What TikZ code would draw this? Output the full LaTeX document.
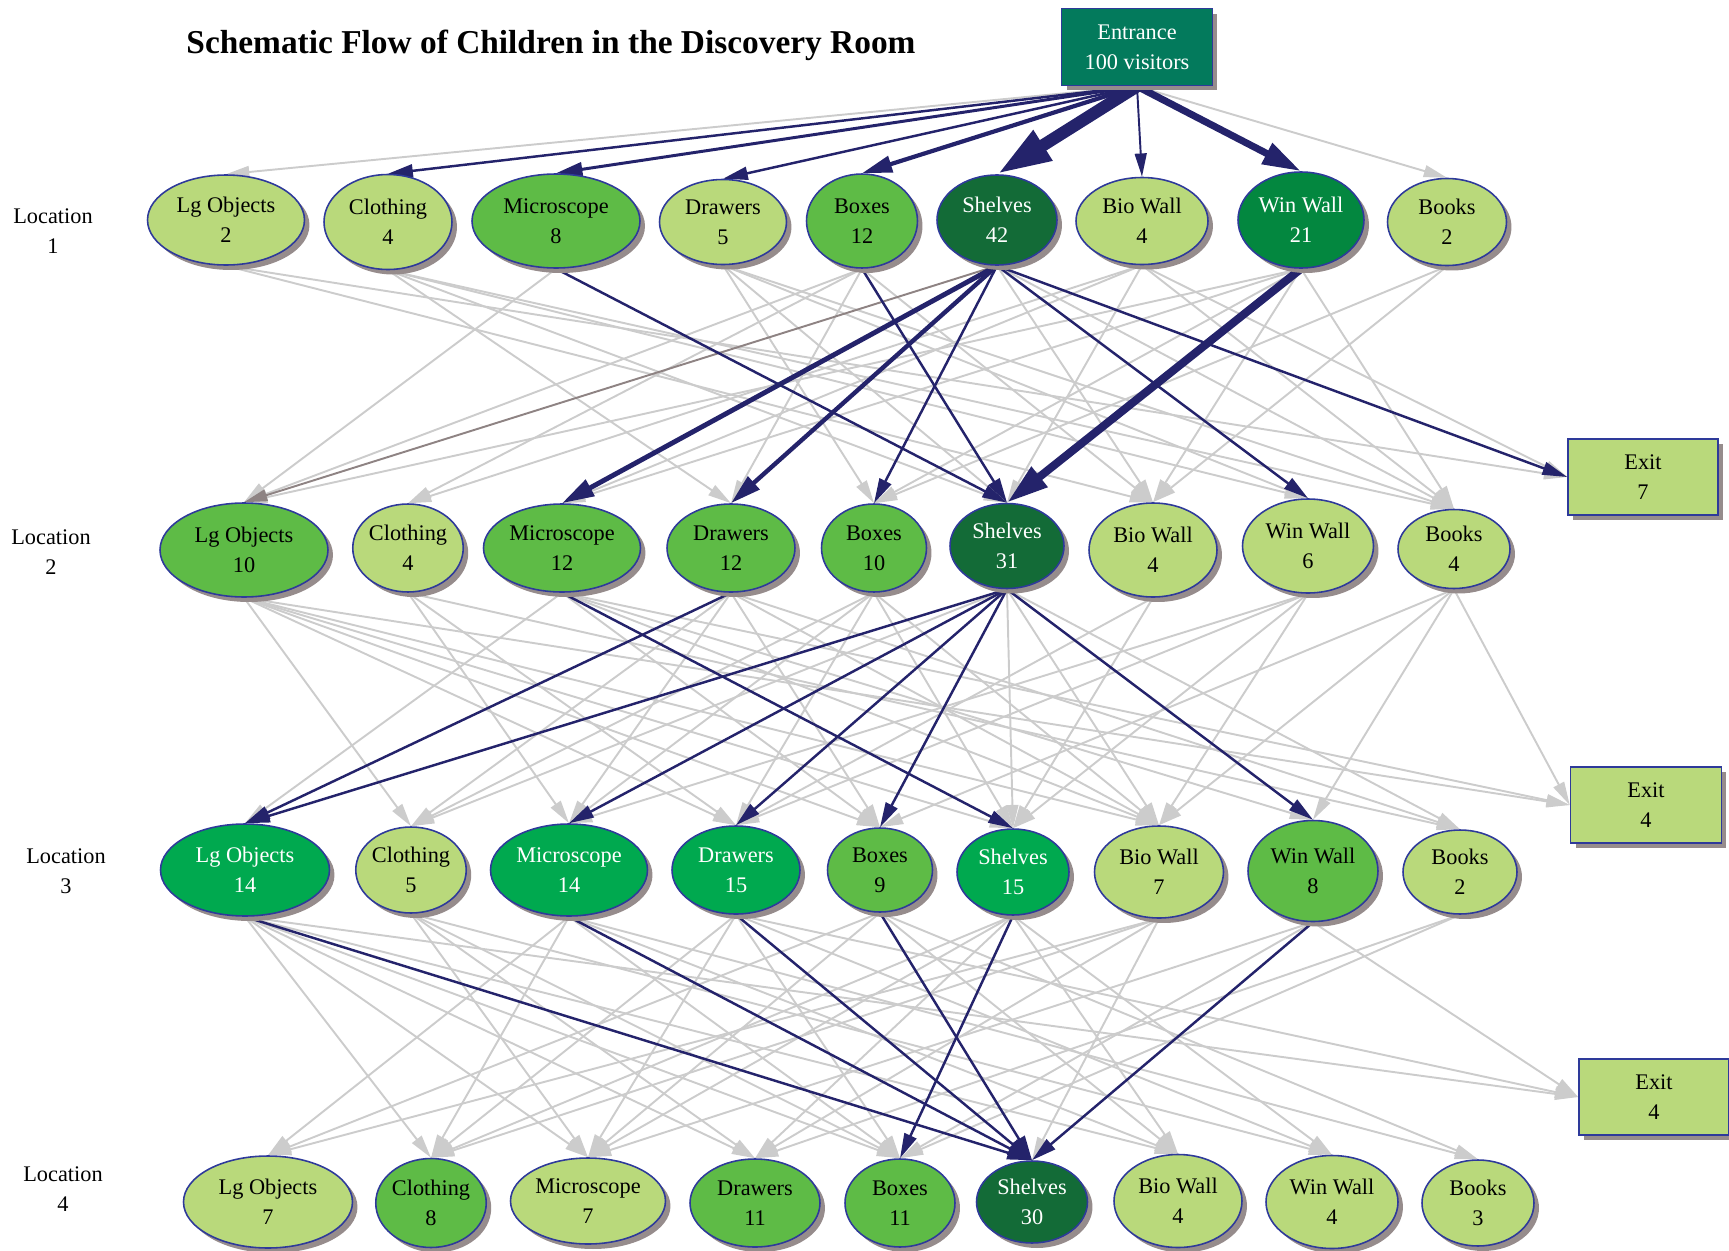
\documentclass[tikz,border=0pt]{standalone}
\usepackage{fontspec}
\setmainfont{Liberation Serif}
\usetikzlibrary{shapes.geometric,arrows.meta,shadows,backgrounds}

\definecolor{lightg}{HTML}{B9D97B}
\definecolor{medg}{HTML}{5EBB46}
\definecolor{brightg}{HTML}{00A94F}
\definecolor{darkg}{HTML}{136B37}
\definecolor{wing}{HTML}{03873F}
\definecolor{entg}{HTML}{037A5C}
\definecolor{rim}{HTML}{2E3A9A}
\definecolor{shade}{HTML}{968C8C}
\definecolor{navy}{HTML}{24236B}
\definecolor{edgegray}{HTML}{CCCCCC}
\definecolor{brownish}{HTML}{8E8383}

\newcommand{\bubfont}{\fontsize{12.7}{17}\selectfont}
\newcommand{\ttlfont}{\fontsize{19}{23}\selectfont\bfseries}

\tikzset{
  sz/.style 2 args={minimum width=#1cm, minimum height=#2cm},
  spot/.style={ellipse, draw=rim, line width=0.9pt, inner sep=0pt, align=center, font=\bubfont,
    drop shadow={shadow xshift=0.1cm, shadow yshift=-0.1cm, fill=shade, opacity=1}},
  pale/.style={spot, fill=lightg, text=black},
  mid/.style={spot, fill=medg, text=black},
  deep/.style={spot, fill=#1, text=white},
  gate/.style={rectangle, draw=rim, line width=0.9pt, fill=entg, text=white, align=center, font=\bubfont,
    drop shadow={shadow xshift=0.1cm, shadow yshift=-0.1cm, fill=shade, opacity=1}},
  exitbox/.style={rectangle, draw=rim, line width=0.9pt, fill=lightg, align=center, font=\bubfont,
    drop shadow={shadow xshift=0.1cm, shadow yshift=-0.1cm, fill=shade, opacity=1}},
  loc/.style={align=center, font=\bubfont},
  faint/.style={draw=edgegray, line width=1.1pt, -{Triangle[length=3.5mm 3, width=1.6mm 2]}},
  flow/.style={draw=navy, line width=1.4pt, -{Triangle[length=3.5mm 3, width=1.6mm 2]}},
}

\begin{document}
\begin{tikzpicture}[x=0.02cm, y=-0.02cm]
\useasboundingbox (0,0) rectangle (1729,1251);

\node[font=\ttlfont] (title) at (551,45) {Schematic Flow of Children in the Discovery Room};
\node[gate, sz={3.02}{1.54}] (en) at (1137,47) {Entrance\\100 visitors};

% locations
\node[loc] (l1) at (53,231) {Location\\1};
\node[loc] (l2) at (51,552) {Location\\2};
\node[loc] (l3) at (66,871) {Location\\3};
\node[loc] (l4) at (63,1189) {Location\\4};

% location 1
\node[pale, sz={3.14}{1.80}] (a1) at (226,220) {Lg Objects\\2};
\node[pale, sz={2.56}{1.90}] (a2) at (388,222) {Clothing\\4};
\node[mid, sz={3.36}{1.88}] (a3) at (556,221) {Microscope\\8};
\node[pale, sz={2.54}{1.70}] (a4) at (723,222) {Drawers\\5};
\node[mid, sz={2.22}{1.88}] (a5) at (862,221) {Boxes\\12};
\node[deep=darkg, sz={2.40}{1.80}] (a6) at (997,220) {Shelves\\42};
\node[pale, sz={2.64}{1.74}] (a7) at (1142,221) {Bio Wall\\4};
\node[deep=wing, sz={2.52}{1.92}] (a8) at (1301,220) {Win Wall\\21};
\node[pale, sz={2.38}{1.74}] (a9) at (1447,222) {Books\\2};

% location 2
\node[mid, sz={3.36}{1.88}] (b1) at (244,550) {Lg Objects\\10};
\node[pale, sz={2.12}{1.76}] (b2) at (408,548) {Clothing\\4};
\node[mid, sz={3.14}{1.76}] (b3) at (562,548) {Microscope\\12};
\node[mid, sz={2.56}{1.76}] (b4) at (731,548) {Drawers\\12};
\node[mid, sz={2.10}{1.76}] (b5) at (874,548) {Boxes\\10};
\node[deep=darkg, sz={2.28}{1.70}] (b6) at (1007,546) {Shelves\\31};
\node[pale, sz={2.56}{1.88}] (b7) at (1153,550) {Bio Wall\\4};
\node[pale, sz={2.62}{1.88}] (b8) at (1308,546) {Win Wall\\6};
\node[pale, sz={2.24}{1.58}] (b9) at (1454,549) {Books\\4};
\node[exitbox, sz={3.00}{1.52}] (e1) at (1643,477) {Exit\\7};

% location 3
\node[deep=brightg, sz={3.38}{1.84}] (c1) at (245,870) {Lg Objects\\14};
\node[pale, sz={2.06}{1.72}] (c2) at (411,870) {Clothing\\5};
\node[deep=brightg, sz={3.14}{1.84}] (c3) at (569,870) {Microscope\\14};
\node[deep=brightg, sz={2.56}{1.76}] (c4) at (736,870) {Drawers\\15};
\node[mid, sz={2.10}{1.68}] (c5) at (880,870) {Boxes\\9};
\node[deep=brightg, sz={2.24}{1.72}] (c6) at (1013,872) {Shelves\\15};
\node[pale, sz={2.58}{1.84}] (c7) at (1159,872) {Bio Wall\\7};
\node[mid, sz={2.60}{2.02}] (c8) at (1313,871) {Win Wall\\8};
\node[pale, sz={2.28}{1.68}] (c9) at (1460,872) {Books\\2};
\node[exitbox, sz={3.02}{1.52}] (e2) at (1646,805) {Exit\\4};

% location 4
\node[pale, sz={3.38}{1.84}] (d1) at (268,1202) {Lg Objects\\7};
\node[mid, sz={2.16}{1.78}] (d2) at (431,1203) {Clothing\\8};
\node[pale, sz={3.10}{1.72}] (d3) at (588,1201) {Microscope\\7};
\node[mid, sz={2.60}{1.76}] (d4) at (755,1203) {Drawers\\11};
\node[mid, sz={2.20}{1.76}] (d5) at (900,1203) {Boxes\\11};
\node[deep=darkg, sz={2.22}{1.64}] (d6) at (1032,1202) {Shelves\\30};
\node[pale, sz={2.56}{1.86}] (d7) at (1178,1201) {Bio Wall\\4};
\node[pale, sz={2.64}{1.86}] (d8) at (1332,1202) {Win Wall\\4};
\node[pale, sz={2.24}{1.72}] (d9) at (1478,1203) {Books\\3};
\node[exitbox, sz={3.00}{1.52}] (e3) at (1654,1097) {Exit\\4};

\begin{scope}[on background layer]
% small flows
\foreach \s/\t in {en/a1, en/a9,
  a1/b7, a2/b4, a2/b6, a2/b8, a2/b9, a3/b1, a4/b5, a4/b6, a4/b8, a4/b9,
  a5/b1, a5/b2, a5/b4, a5/b7, a6/b7, a6/b9, a7/b2, a7/b3, a7/b6, a7/b9,
  a8/b1, a8/b3, a8/b5, a8/b7, a8/b9, a9/b5, a9/b7,
  b1/c2, b1/c4, b1/c5, b1/c6, b1/c7, b2/c3, b2/c4, b2/c9,
  b3/c1, b3/c5, b3/c7, b3/c8, b4/c2, b4/c3, b4/c5, b4/c7, b4/c9,
  b5/c2, b5/c3, b5/c4, b5/c6, b5/c7, b6/c2, b6/c6, b6/c7, b6/c9,
  b7/c4, b7/c6, b8/c3, b8/c4, b8/c6, b8/c7, b9/c5, b9/c7, b9/c8,
  c1/d2, c1/d3, c1/d4, c1/d5, c1/d7, c2/d3, c2/d4, c2/d5, c2/d8,
  c3/d1, c3/d2, c3/d5, c3/d7, c3/d9, c4/d2, c4/d3, c4/d5, c4/d8,
  c5/d1, c5/d3, c5/d7, c5/d9, c6/d2, c6/d3, c6/d4, c6/d7, c6/d8,
  c7/d1, c7/d2, c7/d4, c7/d6, c8/d3, c8/d5, c9/d4, c9/d5}
  \draw[faint] (\s.south) -- (\t.north);
\foreach \s/\t in {a1/e1, a7/e1, b1/e2, b3/e2, b9/e2, c1/e3, c4/e3, c8/e3}
  \draw[faint] (\s.south) -- (\t.west);
\draw[faint, draw=brownish] (a6.south) -- (b1.north);

% big flows
\foreach \s/\t/\w in {en/a2/1.4, en/a3/1.7, en/a4/1.4, en/a5/2.4, en/a6/7, en/a7/1.1, en/a8/4,
  a3/b6/1.4, a5/b6/1.4, a6/b3/2.8, a6/b4/2.5, a6/b5/1.4, a6/b8/1.4, a8/b6/4.6,
  b3/c6/1.4, b4/c1/1.4, b6/c1/1.4, b6/c3/1.4, b6/c4/1.4, b6/c5/1.4, b6/c8/1.4,
  c1/d6/1.4, c3/d6/1.4, c4/d6/1.4, c5/d6/1.4, c6/d5/1.4, c8/d6/1.4}
  \draw[flow, line width=\w pt] (\s.south) -- (\t.north);
\draw[flow] (a6.south) -- (e1.west);
\end{scope}
\end{tikzpicture}
\end{document}
